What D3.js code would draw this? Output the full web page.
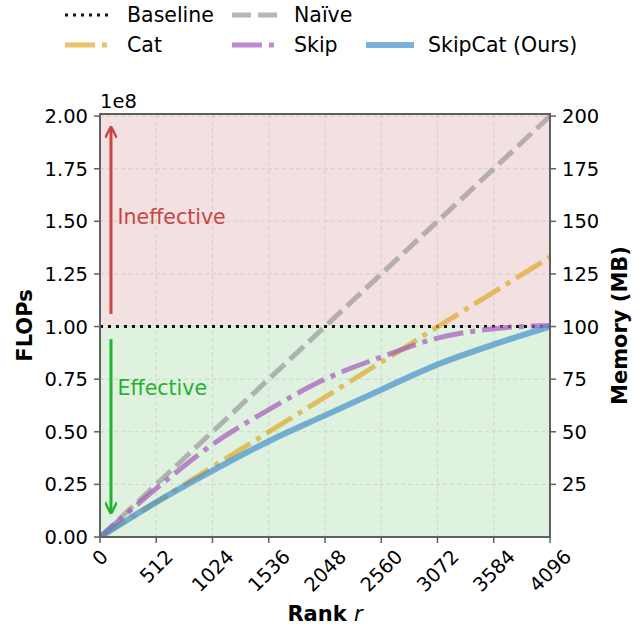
<!DOCTYPE html>
<html>
<head>
<meta charset="utf-8">
<script src="https://cdn.jsdelivr.net/npm/d3@7"></script>
<style>
  body { margin: 0; background: #fff; }
  text { font-family: "DejaVu Sans", sans-serif; }
</style>
</head>
<body>
<div id="wrapper"></div>
<script>
// ranks r and FLOPs (x1e8)
const ranks = [0, 512, 1024, 1536, 2048, 2560, 3072, 3584, 4096];
const baselineVals = [1.0, 1.0, 1.0, 1.0, 1.0, 1.0, 1.0, 1.0, 1.0];
const naiveVals = [0, 0.25, 0.50, 0.75, 1.00, 1.25, 1.50, 1.75, 2.00];
const catVals = [0, 0.166, 0.333, 0.499, 0.665, 0.831, 0.998, 1.164, 1.33];
const skipVals = [0, 0.23, 0.44, 0.605, 0.75, 0.855, 0.945, 0.99, 1.005];
const skipCatVals = [0, 0.165, 0.315, 0.455, 0.578, 0.70, 0.82, 0.915, 1.0];

const xTicks = [0, 512, 1024, 1536, 2048, 2560, 3072, 3584, 4096];
const yTicks = [0, 0.25, 0.5, 0.75, 1.0, 1.25, 1.5, 1.75, 2.0];
const memTicks = [25, 50, 75, 100, 125, 150, 175, 200];

// legend slot: [column, row]
const series = [
    { name: "Baseline", vals: baselineVals, color: "#111", width: 3, dash: "3,5", opacity: 1, slot: [0, 0] },
    { name: "Naïve", vals: naiveVals, color: "#999999", width: 5, dash: "19,7", opacity: 0.7, slot: [1, 0] },
    { name: "Cat", vals: catVals, color: "#e0a82a", width: 5, dash: "30,7,5,7", opacity: 0.7, slot: [0, 1] },
    { name: "Skip", vals: skipVals, color: "#a558bc", width: 5, dash: "30,7,5,7", opacity: 0.7, slot: [1, 1] },
    { name: "SkipCat (Ours)", vals: skipCatVals, color: "#4590cc", width: 6, dash: null, opacity: 0.7, slot: [2, 1] }
];

const dimension = {
    width: 641,
    height: 627,
    margin: { top: 114, left: 100, bottom: 90, right: 91 }
};
dimension.boundedWidth = dimension.width - dimension.margin.left - dimension.margin.right;
dimension.boundedHeight = dimension.height - dimension.margin.top - dimension.margin.bottom;

const svg = d3.select("#wrapper").append("svg")
    .attr("width", dimension.width)
    .attr("height", dimension.height);

const xScaler = d3.scaleLinear().domain([0, 4096])
    .range([dimension.margin.left, dimension.margin.left + dimension.boundedWidth]);
const yScaler = d3.scaleLinear().domain([0, 2.01])
    .range([dimension.margin.top + dimension.boundedHeight, dimension.margin.top]);
const memScaler = d3.scaleLinear().domain([0, 201]).range(yScaler.range());

const x0 = xScaler(0), x1 = xScaler(4096);
const yTop = yScaler(2.01), yBot = yScaler(0);

// background zones
svg.append("rect")
    .attr("x", x0).attr("y", yTop)
    .attr("width", x1 - x0).attr("height", yScaler(1.0) - yTop)
    .attr("fill", "#f3e0e1");
svg.append("rect")
    .attr("x", x0).attr("y", yScaler(1.0))
    .attr("width", x1 - x0).attr("height", yBot - yScaler(1.0))
    .attr("fill", "#dff2df");

// grid
const grid = svg.append("g").attr("stroke", "#b0b0b0").attr("stroke-opacity", 0.4)
    .attr("stroke-dasharray", "4,3").attr("stroke-width", 1);
xTicks.slice(1, -1).forEach(t => {
    grid.append("line").attr("x1", xScaler(t)).attr("x2", xScaler(t))
        .attr("y1", yTop).attr("y2", yBot);
});
yTicks.slice(1).forEach(t => {
    grid.append("line").attr("x1", x0).attr("x2", x1)
        .attr("y1", yScaler(t)).attr("y2", yScaler(t));
});

svg.append("clipPath").attr("id", "clip")
    .append("rect").attr("x", x0).attr("y", yTop).attr("width", x1 - x0).attr("height", yBot - yTop);

const lineGen = d3.line()
    .x((d, i) => xScaler(ranks[i]))
    .y(d => yScaler(d))
    .curve(d3.curveMonotoneX);

const curves = svg.append("g").attr("clip-path", "url(#clip)");
series.forEach(s => {
    curves.append("path")
        .attr("d", lineGen(s.vals))
        .attr("fill", "none")
        .attr("stroke", s.color)
        .attr("stroke-width", s.width)
        .attr("stroke-opacity", s.opacity)
        .attr("stroke-dasharray", s.dash);
});

// arrows and zone labels
const defs = svg.append("defs");
[["headRed", "#c94545"], ["headGreen", "#1fb32f"]].forEach(([id, c]) => {
    defs.append("marker").attr("id", id)
        .attr("viewBox", "0 0 10 10").attr("refX", 8).attr("refY", 5)
        .attr("markerWidth", 4).attr("markerHeight", 4)
        .attr("orient", "auto")
        .append("path").attr("d", "M0,0 L10,5 L0,10").attr("fill", "none")
        .attr("stroke", c).attr("stroke-width", 2);
});
svg.append("line")
    .attr("x1", xScaler(100)).attr("x2", xScaler(100))
    .attr("y1", yScaler(1.06)).attr("y2", yScaler(1.94))
    .attr("stroke", "#c94545").attr("stroke-width", 3)
    .attr("marker-end", "url(#headRed)");
svg.append("line")
    .attr("x1", xScaler(100)).attr("x2", xScaler(100))
    .attr("y1", yScaler(0.94)).attr("y2", yScaler(0.12))
    .attr("stroke", "#1fb32f").attr("stroke-width", 3)
    .attr("marker-end", "url(#headGreen)");
svg.append("text").attr("x", xScaler(160)).attr("y", yScaler(1.52))
    .attr("dy", "0.36em").attr("font-size", 20.5).attr("fill", "#c94545")
    .text("Ineffective");
svg.append("text").attr("x", xScaler(160)).attr("y", yScaler(0.71))
    .attr("dy", "0.36em").attr("font-size", 20.5).attr("fill", "#1fb32f")
    .text("Effective");

// spines
svg.append("rect")
    .attr("x", x0).attr("y", yTop).attr("width", x1 - x0).attr("height", yBot - yTop)
    .attr("fill", "none").attr("stroke", "#606060").attr("stroke-width", 2);

const tickFont = 19.5;
const tickColor = "#606060";

// left axis
const yAxisG = svg.append("g");
yTicks.forEach(t => {
    yAxisG.append("line").attr("x1", x0 - 6).attr("x2", x0)
        .attr("y1", yScaler(t)).attr("y2", yScaler(t))
        .attr("stroke", tickColor).attr("stroke-width", 1.5);
    yAxisG.append("text").attr("x", x0 - 12).attr("y", yScaler(t))
        .attr("dy", "0.36em").attr("text-anchor", "end").attr("font-size", tickFont)
        .text(t.toFixed(2));
});
svg.append("text").attr("x", x0).attr("y", yTop - 6)
    .attr("font-size", tickFont).text("1e8");

// right axis
memTicks.forEach(t => {
    svg.append("line").attr("x1", x1).attr("x2", x1 + 6)
        .attr("y1", memScaler(t)).attr("y2", memScaler(t))
        .attr("stroke", tickColor).attr("stroke-width", 1.5);
    svg.append("text").attr("x", x1 + 12).attr("y", memScaler(t))
        .attr("dy", "0.36em").attr("font-size", tickFont)
        .text(t);
});

// bottom axis, labels rotated 45 degrees, centred on tick
xTicks.forEach(t => {
    const x = xScaler(t);
    svg.append("line").attr("x1", x).attr("x2", x)
        .attr("y1", yBot).attr("y2", yBot + 6)
        .attr("stroke", tickColor).attr("stroke-width", 1.5);
    const lbl = svg.append("text").attr("text-anchor", "middle")
        .attr("font-size", tickFont).attr("dy", "0.36em").text(t);
    const w = lbl.node().getComputedTextLength();
    const h = (w + tickFont * 0.73) * Math.SQRT1_2;
    const cy = yBot + 11 + h / 2;
    lbl.attr("x", x).attr("y", cy)
        .attr("transform", `rotate(-45, ${x}, ${cy})`);
});

// axis titles
svg.append("text")
    .attr("transform", `translate(32, ${(yTop + yBot) / 2}) rotate(-90)`)
    .attr("text-anchor", "middle").attr("font-size", 21).attr("font-weight", "bold")
    .text("FLOPs");
svg.append("text")
    .attr("transform", `translate(627, ${(yTop + yBot) / 2}) rotate(-90)`)
    .attr("text-anchor", "middle").attr("font-size", 21).attr("font-weight", "bold")
    .text("Memory (MB)");
const xt = svg.append("text")
    .attr("x", (x0 + x1) / 2).attr("y", 621)
    .attr("text-anchor", "middle").attr("font-size", 21).attr("font-weight", "bold");
xt.append("tspan").text("Rank ");
xt.append("tspan").attr("font-style", "italic").attr("font-weight", "normal").text("r");

// legend
const legendCols = [65, 232, 366];
const legendRows = [15, 45];
series.forEach(s => {
    const lx = legendCols[s.slot[0]], ly = legendRows[s.slot[1]];
    svg.append("line")
        .attr("x1", lx).attr("x2", lx + 48)
        .attr("y1", ly).attr("y2", ly)
        .attr("stroke", s.color).attr("stroke-width", s.width)
        .attr("stroke-opacity", s.opacity)
        .attr("stroke-dasharray", s.dash);
    svg.append("text").attr("x", lx + 62).attr("y", ly)
        .attr("dy", "0.36em").attr("font-size", 20.5)
        .text(s.name);
});
</script>
</body>
</html>
